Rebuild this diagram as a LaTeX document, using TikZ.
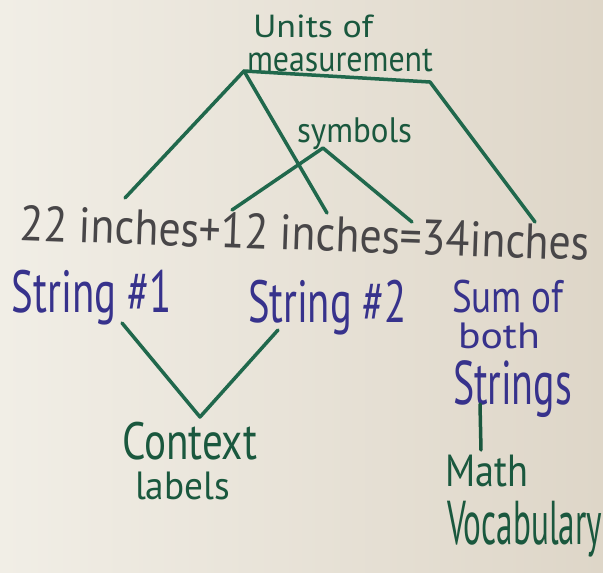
\documentclass[tikz,border=0pt]{standalone}
\usepackage{fontspec}
\setmainfont{PT Sans}
\definecolor{mkgreen}{RGB}{32,104,76}
\definecolor{mkgreendark}{RGB}{26,88,62}
\definecolor{mkblue}{RGB}{55,50,140}
\definecolor{mkgray}{RGB}{72,70,72}
\definecolor{paperL}{RGB}{241,238,230}
\definecolor{paperR}{RGB}{222,214,200}
\newcommand{\hwfit}[3]{\resizebox*{#1pt}{#2pt}{#3}}
\begin{document}
\begin{tikzpicture}[x=1pt,y=-1pt,
  txt/.style={inner sep=0pt, outer sep=0pt, anchor=north west},
  gtxt/.style={txt, text=mkgreendark},
  btxt/.style={txt, text=mkblue},
  marker/.style={draw=mkgreen, line width=3.5pt, line cap=round, line join=round}]
\shade[left color=paperL, right color=paperR] (0,0) rectangle (603,573);
\useasboundingbox (0,0) rectangle (603,573);
% texts
\node[gtxt] (units) at (253,15) {\hwfit{120}{23}{Units of}};
\node[gtxt] (meas) at (247,49) {\hwfit{186}{23}{measurement}};
\node[gtxt] (sym) at (297,118) {\hwfit{115}{32}{symbols}};
\node[txt, anchor=center, rotate=-2, text=mkgray] (eq) at (305,233) {\hwfit{570}{36}{22 inches+12 inches=34inches}};
\node[btxt] (s1) at (12,270) {\hwfit{160}{55}{String \#1}};
\node[btxt] (s2) at (248,280) {\hwfit{159}{55}{String \#2}};
\node[btxt] (sum) at (452,280) {\hwfit{111}{33}{Sum of}};
\node[btxt] (both) at (458,323) {\hwfit{82}{26}{both}};
\node[btxt] (strs) at (453,361) {\hwfit{119}{57}{Strings}};
\node[gtxt] (ctx) at (122,422) {\hwfit{135}{38}{Context}};
\node[gtxt] (lab) at (135,472) {\hwfit{95}{28}{labels}};
\node[gtxt] (math) at (445,455) {\hwfit{83}{32}{Math}};
\node[gtxt] (voc) at (447,501) {\hwfit{155}{56}{Vocabulary}};
% connector points
\coordinate (uA) at (244,71);
\coordinate (uB) at (430,82);
\coordinate (u1) at (125,198);
\coordinate (u2) at (327,213);
\coordinate (u3) at (535,222);
\coordinate (sA) at (323,148);
\coordinate (se1) at (232,210);
\coordinate (se2) at (412,222);
\coordinate (vL) at (122,323);
\coordinate (vB) at (200,417);
\coordinate (vR) at (278,330);
\coordinate (mT) at (480,404);
\coordinate (mB) at (481,450);
% connectors
\draw[marker] (u1) -- (uA) -- (uB) -- (u3);
\draw[marker] (uA) -- (u2);
\draw[marker] (se1) -- (sA) -- (se2);
\draw[marker] (vL) -- (vB) -- (vR);
\draw[marker, draw=mkgreendark] (mT) -- (mB);
\end{tikzpicture}
\end{document}
